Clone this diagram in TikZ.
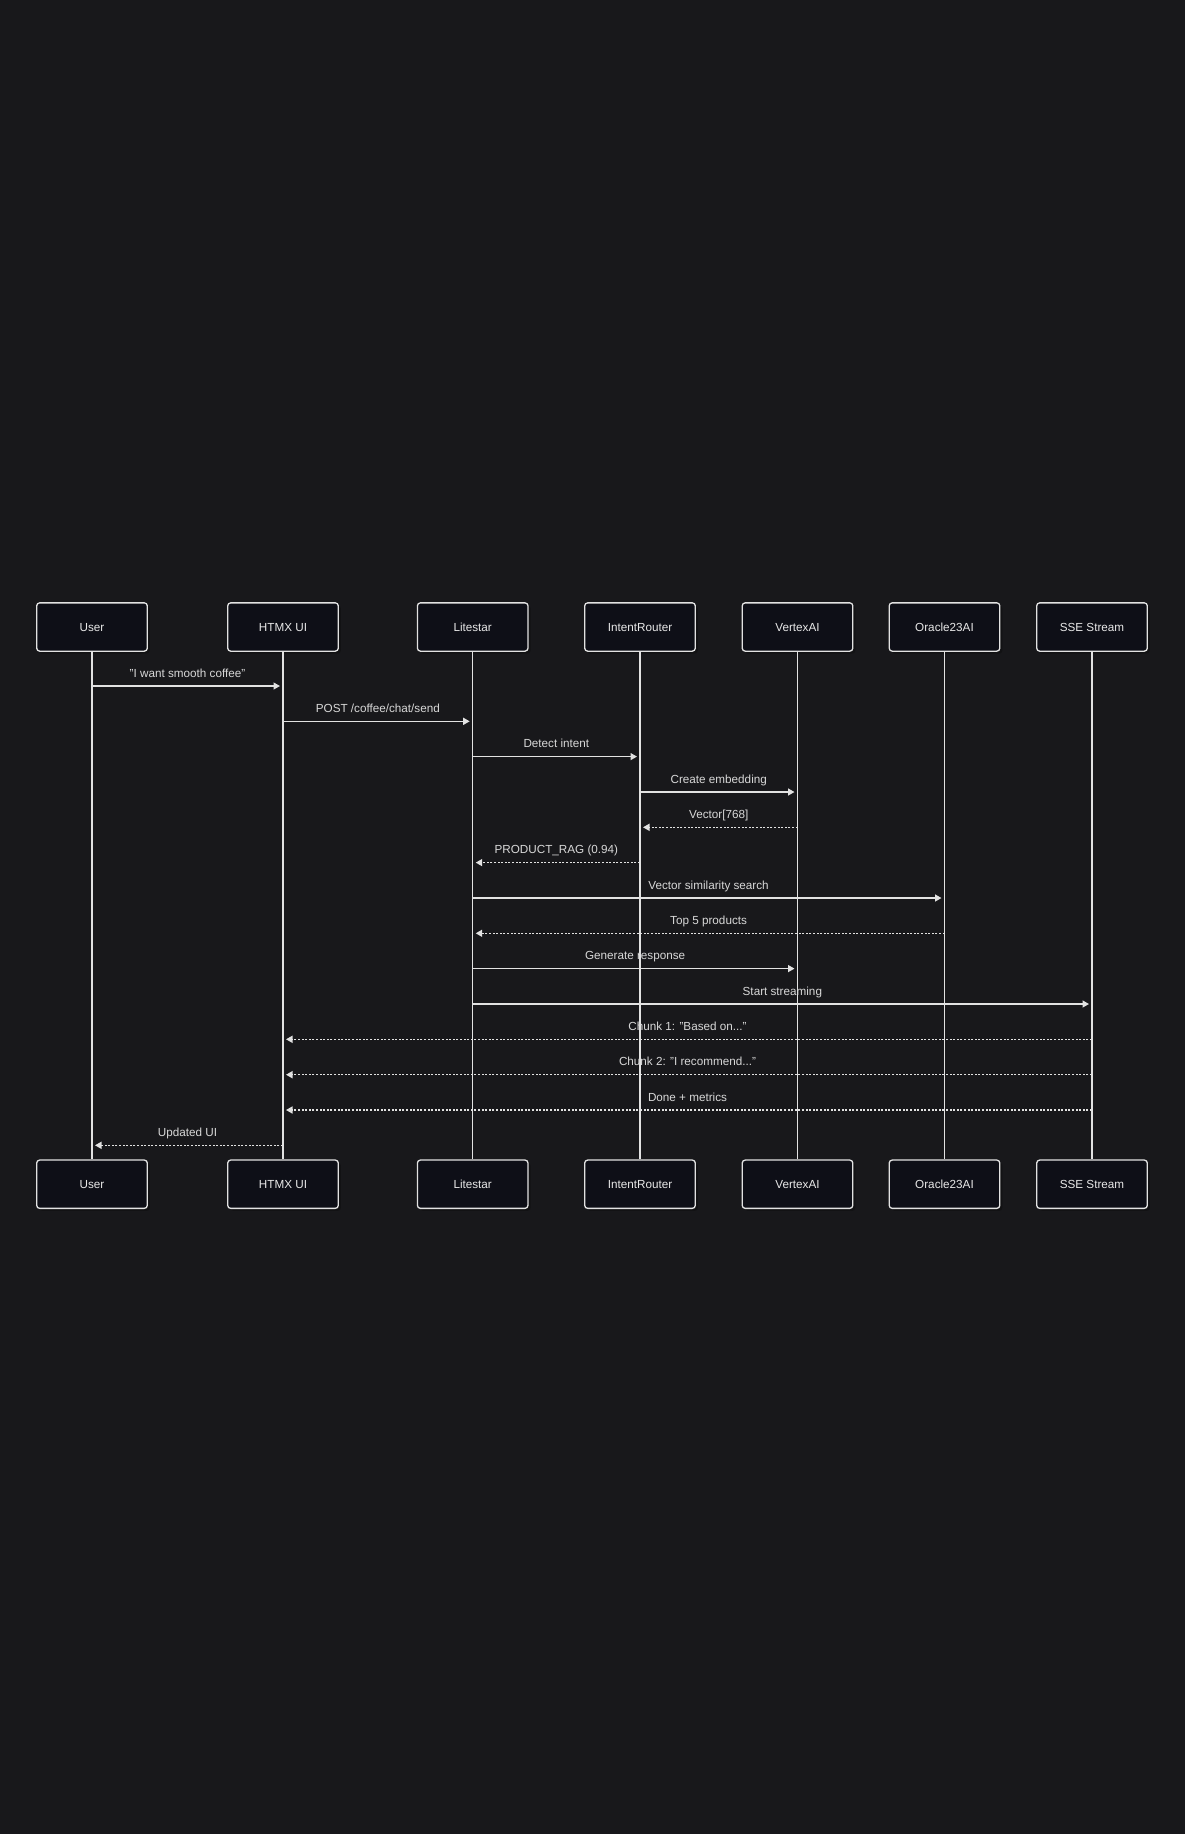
\documentclass[tikz,border=0pt]{standalone}
\usepackage{fontspec}
\setmainfont{Liberation Sans}
\usetikzlibrary{arrows.meta}
\definecolor{bg}{HTML}{18181B}
\definecolor{boxfill}{HTML}{0E0F17}
\definecolor{linec}{HTML}{E2E2E2}
\definecolor{txt}{HTML}{D8D8D8}
\definecolor{boxtxt}{HTML}{E8E8E8}
\definecolor{shadowc}{HTML}{121214}
\tikzset{
  actor/.style={draw=linec, line width=1.3pt, fill=boxfill, rounded corners=3pt,
    minimum width=110.6pt, minimum height=48.3pt, inner sep=0pt, text=boxtxt,
    text height=8.4pt, text depth=0pt,
    font=\fontsize{11.7}{14}\selectfont},
  lifeline/.style={draw=linec, line width=1.3pt},
  msg/.style={draw=linec, line width=1.3pt, shorten >=3pt,
    -{Triangle[length=6.5pt,width=7pt]}},
  ret/.style={msg, line width=1.5pt, dash pattern=on 2pt off 1.6pt},
  lbl/.style={text=txt, anchor=base, yshift=9pt, inner sep=0pt,
    font=\fontsize{11.7}{14}\selectfont},
}
\newcommand{\actorpair}[3]{%
  \fill[shadowc, rounded corners=3pt] (#2-55.3+2.5,627-24.15+2.5) rectangle (#2+55.3+2.5,627+24.15+2.5);
  \fill[shadowc, rounded corners=3pt] (#2-55.3+2.5,1184.2-24.15+2.5) rectangle (#2+55.3+2.5,1184.2+24.15+2.5);
  \node[actor] (#1T) at (#2,627) {#3};
  \node[actor] (#1B) at (#2,1184.2) {#3};
  \draw[lifeline] (#1T.south) -- (#1B.north);
}
\newcommand{\q}{\symbol{34}}
\begin{document}
\begin{tikzpicture}[x=1pt,y=-1pt]
\useasboundingbox (0,0) rectangle (1184,1834);
\fill[bg] (-10,-10) rectangle (1194,1844);

\actorpair{U}{92}{User}
\actorpair{H}{283}{HTMX UI}
\actorpair{L}{472.7}{Litestar}
\actorpair{I}{640}{IntentRouter}
\actorpair{V}{797.5}{VertexAI}
\actorpair{O}{944.5}{Oracle23AI}
\actorpair{S}{1092}{SSE Stream}

\draw[msg] (UT.south |- 0,686) -- (HT.south |- 0,686) node[midway, lbl] {\q I want smooth coffee\q};
\draw[msg] (HT.south |- 0,721.3) -- (LT.south |- 0,721.3) node[midway, lbl] {POST /coffee/chat/send};
\draw[msg] (LT.south |- 0,756.6) -- (IT.south |- 0,756.6) node[midway, lbl] {Detect intent};
\draw[msg] (IT.south |- 0,792) -- (VT.south |- 0,792) node[midway, lbl] {Create embedding};
\draw[ret] (VT.south |- 0,827.3) -- (IT.south |- 0,827.3) node[midway, lbl] {Vector[768]};
\draw[ret] (IT.south |- 0,862.6) -- (LT.south |- 0,862.6) node[midway, lbl] {PRODUCT\_RAG (0.94)};
\draw[msg] (LT.south |- 0,898) -- (OT.south |- 0,898) node[midway, lbl] {Vector similarity search};
\draw[ret] (OT.south |- 0,933.3) -- (LT.south |- 0,933.3) node[midway, lbl] {Top 5 products};
\draw[msg] (LT.south |- 0,968.6) -- (VT.south |- 0,968.6) node[midway, lbl] {Generate response};
\draw[msg] (LT.south |- 0,1004) -- (ST.south |- 0,1004) node[midway, lbl] {Start streaming};
\draw[ret] (ST.south |- 0,1039.3) -- (HT.south |- 0,1039.3) node[midway, lbl] {Chunk 1: \q Based on...\q};
\draw[ret] (ST.south |- 0,1074.7) -- (HT.south |- 0,1074.7) node[midway, lbl] {Chunk 2: \q I recommend...\q};
\draw[ret] (ST.south |- 0,1110) -- (HT.south |- 0,1110) node[midway, lbl] {Done + metrics};
\draw[ret] (HT.south |- 0,1145.3) -- (UT.south |- 0,1145.3) node[midway, lbl] {Updated UI};
\end{tikzpicture}
\end{document}
